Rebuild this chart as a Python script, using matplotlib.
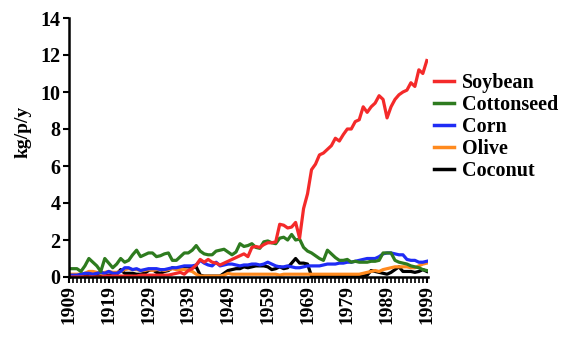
import numpy as np
import matplotlib
matplotlib.use("Agg")
import matplotlib.pyplot as plt
from matplotlib.ticker import MultipleLocator, FixedLocator

years = list(range(1909, 2000))

soybean = [
    0, 0, 0, 0, 0, 0, 0, 0, 0, 0.05,
    0.05, 0.05, 0.05, 0.05, 0.05, 0.05, 0.05, 0.05, 0.1, 0.1,
    0.1, 0.1, 0.1, 0.1, 0.1, 0.1, 0.15, 0.2, 0.25, 0.15,
    0.35, 0.45, 0.65, 0.95, 0.8, 0.95, 0.8, 0.75, 0.65, 0.75,
    0.85, 0.95, 1.05, 1.15, 1.25, 1.1, 1.6, 1.65, 1.6, 1.75,
    1.85, 1.85, 1.9, 2.85, 2.8, 2.65, 2.7, 2.95, 2.1, 3.7,
    4.5, 5.8, 6.1, 6.6, 6.7, 6.9, 7.1, 7.5, 7.35, 7.7,
    8.0, 8.0, 8.4, 8.5, 9.2, 8.9, 9.2, 9.4, 9.8, 9.6,
    8.6, 9.2, 9.6, 9.85, 10.0, 10.1, 10.5, 10.3, 11.2, 11.0, 11.7,
]
cottonseed = [
    0.45, 0.45, 0.45, 0.3, 0.6, 1.0, 0.8, 0.6, 0.3, 1.0,
    0.75, 0.5, 0.7, 1.0, 0.8, 0.9, 1.2, 1.45, 1.1, 1.2,
    1.3, 1.3, 1.1, 1.15, 1.25, 1.3, 0.9, 0.9, 1.1, 1.3,
    1.3, 1.45, 1.7, 1.4, 1.25, 1.2, 1.2, 1.4, 1.45, 1.5,
    1.35, 1.2, 1.35, 1.8, 1.65, 1.7, 1.8, 1.6, 1.55, 1.9,
    1.95, 1.85, 1.8, 2.1, 2.15, 2.0, 2.3, 2.0, 2.05, 1.6,
    1.4, 1.3, 1.15, 1.0, 0.9, 1.45, 1.25, 1.05, 0.9, 0.9,
    0.95, 0.8, 0.85, 0.8, 0.8, 0.8, 0.85, 0.85, 0.9, 1.3,
    1.3, 1.3, 0.9, 0.8, 0.75, 0.7, 0.6, 0.55, 0.5, 0.4, 0.35,
]
corn = [
    0.1, 0.1, 0.1, 0.15, 0.2, 0.2, 0.15, 0.2, 0.25, 0.2,
    0.3, 0.2, 0.2, 0.3, 0.5, 0.5, 0.4, 0.45, 0.35, 0.4,
    0.45, 0.45, 0.45, 0.4, 0.4, 0.45, 0.5, 0.5, 0.55, 0.6,
    0.6, 0.6, 0.65, 0.9, 0.75, 0.65, 0.6, 0.8, 0.6, 0.65,
    0.7, 0.7, 0.65, 0.6, 0.65, 0.65, 0.7, 0.7, 0.65, 0.7,
    0.8, 0.7, 0.6, 0.55, 0.55, 0.6, 0.55, 0.5, 0.5, 0.55,
    0.6, 0.6, 0.6, 0.6, 0.65, 0.7, 0.7, 0.7, 0.75, 0.75,
    0.8, 0.8, 0.85, 0.9, 0.95, 1.0, 1.0, 1.0, 1.1, 1.25,
    1.3, 1.3, 1.25, 1.2, 1.2, 0.95, 0.9, 0.9, 0.8, 0.8, 0.85,
]
olive = [
    0.15, 0.15, 0.15, 0.15, 0.2, 0.3, 0.3, 0.25, 0.2, 0.25,
    0.3, 0.25, 0.25, 0.3, 0.4, 0.45, 0.4, 0.4, 0.35, 0.35,
    0.4, 0.35, 0.4, 0.4, 0.35, 0.4, 0.45, 0.4, 0.4, 0.4,
    0.35, 0.3, 0.15, 0.05, 0.05, 0.05, 0.05, 0.05, 0.05, 0.1,
    0.2, 0.15, 0.15, 0.15, 0.15, 0.15, 0.15, 0.15, 0.15, 0.15,
    0.15, 0.15, 0.15, 0.1, 0.15, 0.15, 0.15, 0.15, 0.15, 0.15,
    0.15, 0.15, 0.15, 0.15, 0.15, 0.15, 0.15, 0.15, 0.15, 0.15,
    0.15, 0.15, 0.15, 0.15, 0.2, 0.25, 0.3, 0.35, 0.3, 0.4,
    0.45, 0.5, 0.55, 0.55, 0.55, 0.55, 0.5, 0.5, 0.6, 0.7, 0.75,
]
coconut = [
    0.1, 0.1, 0.1, 0.1, 0.1, 0.15, 0.15, 0.1, 0.05, 0.05,
    0.1, 0.1, 0.15, 0.4, 0.2, 0.2, 0.2, 0.15, 0.15, 0.2,
    0.35, 0.4, 0.25, 0.2, 0.3, 0.35, 0.5, 0.45, 0.5, 0.55,
    0.55, 0.5, 0.55, 0.1, 0.05, 0.05, 0.05, 0.05, 0.05, 0.2,
    0.35, 0.4, 0.45, 0.45, 0.55, 0.5, 0.55, 0.6, 0.6, 0.6,
    0.55, 0.4, 0.45, 0.55, 0.45, 0.5, 0.75, 1.0, 0.75, 0.75,
    0.7, 0.05, 0.05, 0.05, 0.05, 0.05, 0.05, 0.05, 0.05, 0.05,
    0.05, 0.05, 0.05, 0.05, 0.05, 0.1, 0.35, 0.3, 0.25, 0.2,
    0.15, 0.25, 0.4, 0.55, 0.3, 0.3, 0.3, 0.25, 0.3, 0.4, 0.3,
]

series = [
    ("Soybean", soybean, "#f42a2a"),
    ("Cottonseed", cottonseed, "#2e7b1f"),
    ("Corn", corn, "#1f2cf5"),
    ("Olive", olive, "#ff8a1e"),
    ("Coconut", coconut, "black"),
]

plt.rcParams["font.family"] = "Liberation Serif"
plt.rcParams["font.weight"] = "bold"

fig = plt.figure(figsize=(5.72, 3.51), dpi=100)
ax = fig.add_axes([69 / 572, 1 - 277 / 351, (428 - 69) / 572, (277 - 18) / 351])

# coconut first so the soybean line ends up on top
for name, vals, col in reversed(series):
    ax.plot(years, vals, color=col, lw=2.3, label=name, solid_joinstyle="round")

ax.set_xlim(1909, 1999.3)
ax.set_ylim(0, 14)
ax.yaxis.set_major_locator(MultipleLocator(2))
ax.xaxis.set_major_locator(FixedLocator(list(range(1909, 2000, 10))))
ax.xaxis.set_minor_locator(MultipleLocator(1))

for s in ["top", "right"]:
    ax.spines[s].set_visible(False)
for s in ["left", "bottom"]:
    ax.spines[s].set_linewidth(1.8)

ax.tick_params(axis="y", labelsize=14.5, length=4, width=1.5, pad=2)
ax.tick_params(axis="x", which="major", labelsize=14, length=4, width=1.5,
               labelrotation=90, pad=2)
ax.tick_params(axis="x", which="minor", length=4, width=1.2)

ax.set_ylabel("kg/p/y", fontsize=14, fontweight="bold")
ax.yaxis.set_label_coords(-0.105, 0.56)

handles, labels = ax.get_legend_handles_labels()
leg = fig.legend(handles[::-1], labels[::-1], loc="upper left",
                 bbox_to_anchor=(434 / 572, 1 - 73 / 351), frameon=False,
                 fontsize=14.5, handlelength=1.0, handletextpad=0.4,
                 labelspacing=0.1, borderaxespad=0, borderpad=0)
for line in leg.get_lines():
    line.set_linewidth(2.5)

fig.savefig("out.png", dpi=100)
